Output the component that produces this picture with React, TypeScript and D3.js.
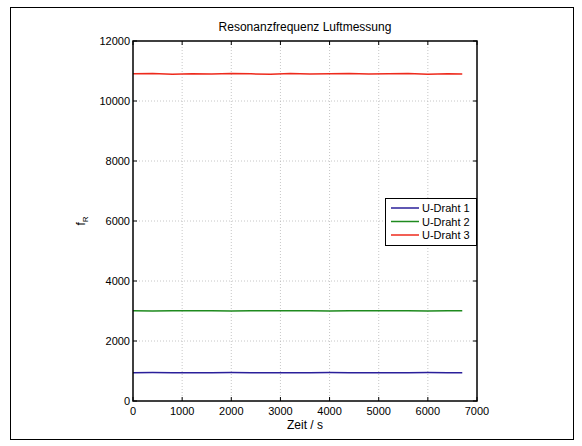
import * as d3 from 'd3';

const title = 'Resonanzfrequenz Luftmessung';
const xLabel = 'Zeit / s';
const xTicks = [0, 1000, 2000, 3000, 4000, 5000, 6000, 7000];
const yTicks = [0, 2000, 4000, 6000, 8000, 10000, 12000];

const times = [0, 400, 800, 1200, 1600, 2000, 2400, 2800, 3200, 3600, 4000, 4400, 4800, 5200, 5600, 6000, 6400, 6700];
const draht1 = [945, 946, 945, 944, 945, 946, 945, 945, 944, 945, 946, 945, 944, 945, 945, 946, 945, 945];
const draht2 = [3005, 3004, 3005, 3006, 3005, 3004, 3005, 3005, 3006, 3005, 3004, 3005, 3005, 3006, 3005, 3004, 3005, 3005];
const draht3 = [10905, 10915, 10895, 10910, 10900, 10920, 10905, 10895, 10915, 10900, 10910, 10920, 10900, 10905, 10915, 10895, 10910, 10900];

const seriesNames = ['U-Draht 1', 'U-Draht 2', 'U-Draht 3'];
const seriesColors = ['#2a1f9a', '#1e8a1e', '#ee2a1c'];
const seriesValues = [draht1, draht2, draht3];

const W = 582;
const H = 446;
const font = 'Liberation Sans, Arial, Helvetica, sans-serif';

export default function App() {
  const left = 133, right = 477, top = 41, bottom = 401;
  const x = d3.scaleLinear().domain([0, 7000]).range([left, right]);
  const y = d3.scaleLinear().domain([0, 12000]).range([bottom, top]);
  const line = d3.line<number>()
    .x((_, i) => x(times[i]))
    .y((d) => y(d));

  const lg = { x: 385, y: 198, w: 91, h: 47 };

  return (
    <div style={{ position: 'absolute', left: 0, top: 0 }}>
      <svg width={W} height={H} viewBox={`0 0 ${W} ${H}`} style={{ display: 'block', background: '#fff' }}>
        {/* figure frame */}
        <rect x={10.5} y={7.5} width={563} height={432} fill="#fff" stroke="#000" strokeWidth={1} />

        {/* grid */}
        <g stroke="#b8b8b8" strokeWidth={0.8} strokeDasharray="1,2">
          {xTicks.slice(1, -1).map((t) => (
            <line key={`gx${t}`} x1={x(t)} x2={x(t)} y1={top} y2={bottom} />
          ))}
          {yTicks.slice(1, -1).map((t) => (
            <line key={`gy${t}`} x1={left} x2={right} y1={y(t)} y2={y(t)} />
          ))}
        </g>

        {/* series */}
        {seriesValues.map((vals, i) => (
          <path key={seriesNames[i]} d={line(vals) || ''} fill="none" stroke={seriesColors[i]} strokeWidth={1.5} />
        ))}

        {/* axes box and ticks */}
        <rect x={left} y={top} width={right - left} height={bottom - top} fill="none" stroke="#000" strokeWidth={1.5} />
        <g stroke="#000" strokeWidth={1}>
          {xTicks.map((t) => (
            <g key={`tx${t}`}>
              <line x1={x(t)} x2={x(t)} y1={bottom} y2={bottom - 4} />
              <line x1={x(t)} x2={x(t)} y1={top} y2={top + 4} />
            </g>
          ))}
          {yTicks.map((t) => (
            <g key={`ty${t}`}>
              <line x1={left} x2={left + 4} y1={y(t)} y2={y(t)} />
              <line x1={right} x2={right - 4} y1={y(t)} y2={y(t)} />
            </g>
          ))}
        </g>

        {/* tick labels */}
        <g fontFamily={font} fontSize={11} fill="#000">
          {xTicks.map((t) => (
            <text key={`lx${t}`} x={x(t)} y={bottom + 14} textAnchor="middle">{t}</text>
          ))}
          {yTicks.map((t) => (
            <text key={`ly${t}`} x={left - 3} y={y(t) + 4} textAnchor="end">{t}</text>
          ))}
        </g>

        {/* labels */}
        <text x={(left + right) / 2} y={31} textAnchor="middle" fontFamily={font} fontSize={12}>{title}</text>
        <text x={(left + right) / 2} y={bottom + 28} textAnchor="middle" fontFamily={font} fontSize={12}>{xLabel}</text>
        <text transform={`translate(85,${(top + bottom) / 2}) rotate(-90)`} textAnchor="middle" fontFamily={font} fontSize={12}>
          f<tspan fontSize={8} dy={3}>R</tspan>
        </text>

        {/* legend */}
        <rect x={lg.x + 0.5} y={lg.y + 0.5} width={lg.w} height={lg.h} fill="#fff" stroke="#000" strokeWidth={1} />
        {seriesNames.map((name, i) => (
          <g key={name} transform={`translate(${lg.x}, ${lg.y + 10 + i * 13.5})`}>
            <line x1={6} x2={34} y1={0} y2={0} stroke={seriesColors[i]} strokeWidth={1.5} />
            <text x={37} y={4} fontFamily={font} fontSize={11}>{name}</text>
          </g>
        ))}
      </svg>
    </div>
  );
}
